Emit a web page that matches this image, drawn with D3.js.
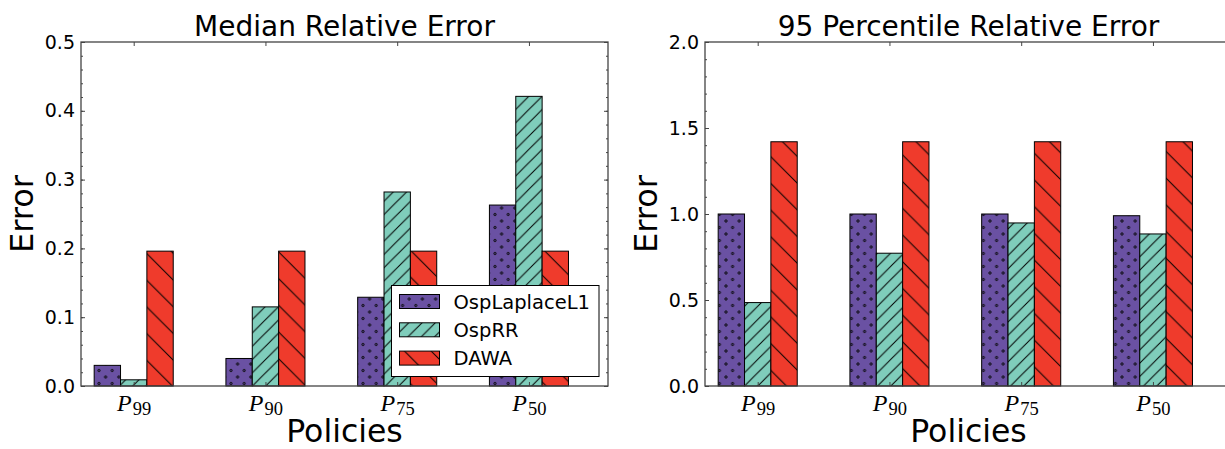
<!DOCTYPE html>
<html>
<head>
<meta charset="utf-8">
<script src="https://cdn.jsdelivr.net/npm/d3@7"></script>
<style>
  html, body { margin: 0; padding: 0; background: #fff; }
  svg { display: block; }
  text { font-family: "DejaVu Sans", sans-serif; fill: #000; }
</style>
</head>
<body>
<svg id="chart" width="1225" height="449"></svg>
<script>
// ---------------- data ----------------
const categories = ["99", "90", "75", "50"];          // subscripts of P
const seriesNames = ["OspLaplaceL1", "OspRR", "DAWA"];
const seriesColors = ["#6a51a3", "#7fcdbb", "#ef3b2c"];

const medianLaplace = [0.030, 0.040, 0.129, 0.263];
const medianRR      = [0.009, 0.115, 0.282, 0.421];
const medianDAWA    = [0.196, 0.196, 0.196, 0.196];

const p95Laplace = [1.00, 1.00, 1.00, 0.99];
const p95RR      = [0.485, 0.772, 0.948, 0.884];
const p95DAWA    = [1.42, 1.42, 1.42, 1.42];

const medianTicks = [0.0, 0.1, 0.2, 0.3, 0.4, 0.5];
const p95Ticks    = [0.0, 0.5, 1.0, 1.5, 2.0];

const titles = ["Median Relative Error", "95 Percentile Relative Error"];
const xLabel = "Policies";
const yLabel = "Error";

// ---------------- setup ----------------
const svg = d3.select("#chart");
const defs = svg.append("defs");
const spineColor = "#444";

// hatch patterns
function dotPattern(id, color) {
  const w = 13.2, h = 13;
  const p = defs.append("pattern").attr("id", id).attr("patternUnits", "userSpaceOnUse")
    .attr("width", w).attr("height", h);
  p.append("rect").attr("width", w).attr("height", h).attr("fill", color);
  [[0,0],[w,0],[0,h],[w,h],[w/2,h/2]].forEach(([cx,cy]) => {
    p.append("circle").attr("cx", cx).attr("cy", cy).attr("r", 1.25)
      .attr("fill", "#3a2a66").attr("stroke", "#111").attr("stroke-width", 0.8);
  });
}
function linePattern(id, color, s, forward) {
  const p = defs.append("pattern").attr("id", id).attr("patternUnits", "userSpaceOnUse")
    .attr("width", s).attr("height", s);
  p.append("rect").attr("width", s).attr("height", s).attr("fill", color);
  const d = forward
    ? `M0,${s} L${s},0 M-2,2 L2,-2 M${s-2},${s+2} L${s+2},${s-2}`
    : `M0,0 L${s},${s} M-2,${s-2} L2,${s+2} M${s-2},-2 L${s+2},2`;
  p.append("path").attr("d", d).attr("stroke", "#000").attr("stroke-width", 1);
}
dotPattern("hatch0", seriesColors[0]);
linePattern("hatch1", seriesColors[1], 13.3, true);
linePattern("hatch2", seriesColors[2], 26.7, false);

const barWidth = 0.2;
const tickOffset = 0.3;

function drawPanel(cfg) {
  const { x0, x1, y0, y1, yMax, majors, minors, data, title, legend } = cfg;
  const g = svg.append("g");
  const x = d3.scaleLinear().domain([-0.1, 3.9]).range([x0, x1]);
  const y = d3.scaleLinear().domain([0, yMax]).range([y1, y0]);

  // bars
  data.forEach((vals, si) => {
    g.selectAll(null).data(vals).enter().append("rect")
      .attr("x", (d, i) => x(i + si * barWidth))
      .attr("width", (d, i) => x(i + si * barWidth + barWidth) - x(i + si * barWidth))
      .attr("y", d => y(d))
      .attr("height", d => y(0) - y(d))
      .attr("fill", `url(#hatch${si})`)
      .attr("stroke", "#000").attr("stroke-width", 1);
  });

  const fmt = d3.format(".1f");
  const tickPos = categories.map((c, i) => i + tickOffset);

  function styleAxis(sel) {
    sel.select(".domain").remove();
    sel.selectAll(".tick line").attr("stroke", spineColor).attr("stroke-width", 1);
    sel.selectAll(".tick text").style("font-size", "19px").style("font-family", "DejaVu Sans");
  }
  // left major / minor
  g.append("g").attr("transform", `translate(${x0},0)`)
    .call(d3.axisLeft(y).tickValues(majors).tickFormat(fmt).tickSizeInner(-4).tickSizeOuter(0).tickPadding(6))
    .call(styleAxis);
  g.append("g").attr("transform", `translate(${x0},0)`)
    .call(d3.axisLeft(y).tickValues(minors).tickFormat("").tickSizeInner(-2).tickSizeOuter(0))
    .call(styleAxis);
  // right major / minor
  g.append("g").attr("transform", `translate(${x1},0)`)
    .call(d3.axisRight(y).tickValues(majors).tickFormat("").tickSizeInner(-4).tickSizeOuter(0))
    .call(styleAxis);
  g.append("g").attr("transform", `translate(${x1},0)`)
    .call(d3.axisRight(y).tickValues(minors).tickFormat("").tickSizeInner(-2).tickSizeOuter(0))
    .call(styleAxis);
  // top ticks
  g.append("g").attr("transform", `translate(0,${y0})`)
    .call(d3.axisTop(x).tickValues(tickPos).tickFormat("").tickSizeInner(-4).tickSizeOuter(0))
    .call(styleAxis);
  // bottom ticks + labels
  const bottom = g.append("g").attr("transform", `translate(0,${y1})`)
    .call(d3.axisBottom(x).tickValues(tickPos).tickFormat("").tickSizeInner(-4).tickSizeOuter(0).tickPadding(0))
    .call(styleAxis);
  bottom.selectAll(".tick text").each(function(d, i) {
    const t = d3.select(this).attr("y", 24.5).attr("dy", null)
      .style("font-family", "'Liberation Serif', serif").style("font-size", null);
    t.append("tspan").attr("font-style", "italic").attr("font-size", 24).text("P");
    t.append("tspan").attr("font-size", 18.5).attr("dy", 4).attr("dx", 1).text(categories[i]);
  });

  // spines
  g.append("rect").attr("x", x0).attr("y", y0).attr("width", x1 - x0).attr("height", y1 - y0)
    .attr("fill", "none").attr("stroke", spineColor).attr("stroke-width", 1.3);

  // title and labels
  const cx = (x0 + x1) / 2;
  g.append("text").attr("x", cx).attr("y", 36).attr("text-anchor", "middle")
    .style("font-size", "28px").text(title);
  g.append("text").attr("x", cx).attr("y", 442).attr("text-anchor", "middle")
    .style("font-size", "31.5px").text(xLabel);
  g.append("text").attr("transform", `translate(${x0 - 48},${(y0 + y1) / 2}) rotate(-90)`)
    .attr("text-anchor", "middle").style("font-size", "32px").text(yLabel);

  if (legend) {
    const lx = 391.5, ly = 285.5, lw = 207.5, lh = 91;
    const lg = g.append("g");
    lg.append("rect").attr("x", lx).attr("y", ly).attr("width", lw).attr("height", lh)
      .attr("fill", "#fff").attr("stroke", "#000").attr("stroke-width", 1);
    seriesNames.forEach((name, si) => {
      const cy = ly + 16 + si * 28.3;
      lg.append("rect").attr("x", lx + 8).attr("y", cy - 7).attr("width", 40).attr("height", 14)
        .attr("fill", `url(#hatch${si})`).attr("stroke", "#000").attr("stroke-width", 1);
      lg.append("text").attr("x", lx + 62).attr("y", cy + 7).style("font-size", "19.5px").text(name);
    });
  }
}

drawPanel({
  x0: 81, x1: 608, y0: 42, y1: 386, yMax: 0.5,
  majors: medianTicks, minors: d3.range(0, 51, 2).map(v => v / 100),
  data: [medianLaplace, medianRR, medianDAWA], title: titles[0], legend: true
});
drawPanel({
  x0: 705, x1: 1232, y0: 42, y1: 386, yMax: 2.0,
  majors: p95Ticks, minors: d3.range(0, 21, 1).map(v => v / 10),
  data: [p95Laplace, p95RR, p95DAWA], title: titles[1], legend: false
});
</script>
</body>
</html>
